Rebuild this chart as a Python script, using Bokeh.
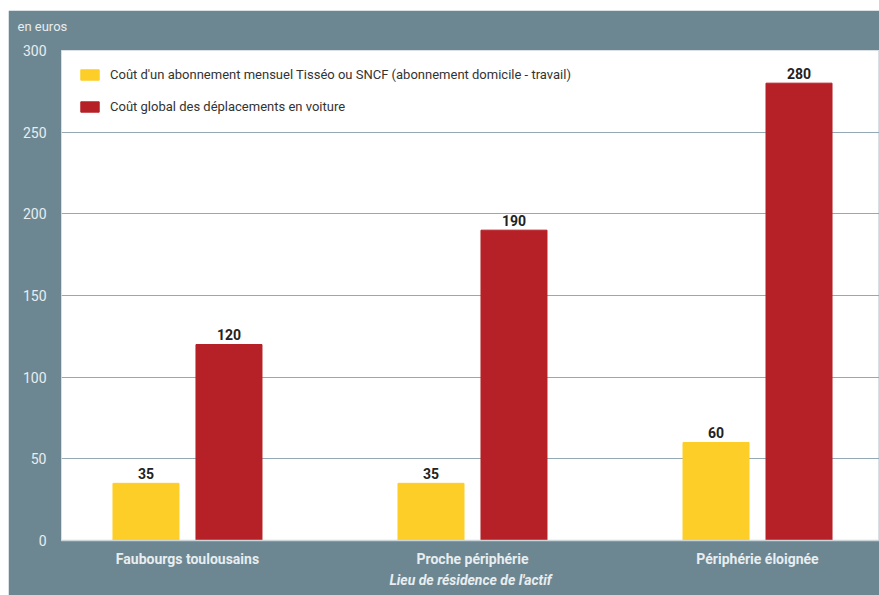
from bokeh.plotting import figure
from bokeh.models import ColumnDataSource, Legend, LegendItem, FixedTicker, Range1d, Title
from bokeh.core.properties import value
from bokeh.transform import dodge
from bokeh.embed import file_html
from bokeh.resources import INLINE

categories = ["Faubourgs toulousains", "Proche périphérie", "Périphérie éloignée"]
abonnement = [35, 35, 60]
voiture = [120, 190, 280]
y_ticks = [0, 50, 100, 150, 200, 250, 300]
series_names = [
    "Coût d'un abonnement mensuel Tisséo ou SNCF (abonnement domicile - travail)",
    "Coût global des déplacements en voiture",
]
x_title = "Lieu de résidence de l'actif"
y_unit = "en euros"

SLATE = "#6C8792"
YELLOW = "#FDCE27"
RED = "#B52126"
GRID = "#93A9B5"
LIGHT = "#E8EDF0"
FONT = "Roboto"

src = ColumnDataSource(dict(
    x=list(range(len(categories))),
    a=abonnement, v=voiture,
    at=[str(t) for t in abonnement], vt=[str(t) for t in voiture],
))

p = figure(width=871, height=585, output_backend="svg", toolbar_location=None,
           x_range=Range1d(-0.442, 2.428), y_range=Range1d(0, 300),
           min_border_left=53, min_border_right=0, min_border_top=40, min_border_bottom=55)
p.margin = (10, 0, 0, 8)
p.background_fill_color = "white"
p.border_fill_color = SLATE
p.outline_line_color = "#D8E0E4"

spacer = Title(text=" ", standoff=0, text_font=FONT, text_font_size="13px",
               text_color=SLATE)
unit_title = Title(text=y_unit, align="left", offset=-44, standoff=0,
                   text_font=FONT, text_font_style="normal", text_font_size="13px",
                   text_color=LIGHT)
p.add_layout(spacer, "above")
p.add_layout(unit_title, "above")

off = 0.1456
w = 0.2316
r1 = p.vbar(x=dodge("x", -off, range=p.x_range), top="a", width=w, source=src,
            fill_color=YELLOW, line_color=YELLOW)
r2 = p.vbar(x=dodge("x", off, range=p.x_range), top="v", width=w, source=src,
            fill_color=RED, line_color=RED)

for col, txt, d in (("a", "at", -off), ("v", "vt", off)):
    p.text(x=dodge("x", d, range=p.x_range), y=col, text=txt, source=src,
           y_offset=-10, text_align="center", text_baseline="alphabetic",
           text_font=value(FONT), text_font_style="bold", text_font_size="14px",
           text_color="#222222")

legend = Legend(items=[LegendItem(label=series_names[0], renderers=[r1]),
                       LegendItem(label=series_names[1], renderers=[r2])],
                location="top_left", margin=17, padding=15, spacing=17,
                glyph_width=23, glyph_height=13, label_height=13, label_standoff=9,
                label_text_font=FONT, label_text_font_size="13px",
                label_text_color="#333333", background_fill_alpha=0,
                border_line_color=None)
p.add_layout(legend)

p.xaxis.ticker = FixedTicker(ticks=list(range(len(categories))))
p.xaxis.major_label_overrides = {i: c for i, c in enumerate(categories)}
p.xaxis.major_label_text_font = FONT
p.xaxis.major_label_text_font_style = "bold"
p.xaxis.major_label_text_font_size = "14px"
p.xaxis.major_label_text_color = LIGHT
p.xaxis.major_label_standoff = 4
p.xaxis.major_tick_line_color = None
p.xaxis.minor_tick_line_color = None
p.xaxis.axis_line_color = "#CBD4D8"
p.xaxis.axis_line_width = 1.5
p.xaxis.axis_label = x_title
p.xaxis.axis_label_text_font = FONT
p.xaxis.axis_label_text_font_style = "bold italic"
p.xaxis.axis_label_text_font_size = "14px"
p.xaxis.axis_label_text_color = LIGHT
p.xaxis.axis_label_standoff = 2

p.yaxis.ticker = FixedTicker(ticks=y_ticks)
p.yaxis.major_label_text_font = FONT
p.yaxis.major_label_text_font_size = "14px"
p.yaxis.major_label_text_color = LIGHT
p.yaxis.major_label_standoff = 9
p.yaxis.major_tick_line_color = None
p.yaxis.minor_tick_line_color = None
p.yaxis.axis_line_color = None

p.xgrid.grid_line_color = None
p.ygrid.grid_line_color = GRID
p.ygrid.grid_line_width = 1

open("out.html", "w").write(file_html(p, INLINE))
